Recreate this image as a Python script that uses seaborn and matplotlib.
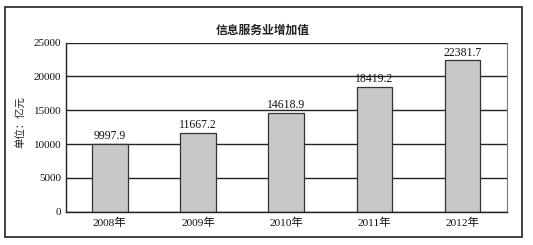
import matplotlib
matplotlib.use("Agg")
import matplotlib.pyplot as plt
import seaborn as sns
import pandas as pd
from matplotlib.patches import Rectangle
from matplotlib.ticker import FixedLocator

years = ["2008年", "2009年", "2010年", "2011年", "2012年"]
values = [9997.9, 11667.2, 14618.9, 18419.2, 22381.7]
value_labels = ["9997.9", "11667.2", "14618.9", "18419.2", "22381.7"]
y_ticks = [0, 5000, 10000, 15000, 20000, 25000]
title = "信息服务业增加值"
ylabel = "单位：亿元"

sns.set_theme(style="white")
plt.rcParams['font.family'] = ['Liberation Serif', 'Noto Sans CJK SC']
plt.rcParams['axes.unicode_minus'] = False

df = pd.DataFrame({"year": years, "value": values})

fig = plt.figure(figsize=(5.33, 2.45), dpi=100)
fig.patch.set_facecolor("white")
W, H = 533, 245
ax = fig.add_axes([65.7 / W, 1 - 211.7 / H, (506.7 - 65.7) / W, (211.7 - 42.7) / H])

for yv in y_ticks:
    ax.axhline(yv, color="#222222", lw=1.0, zorder=0)

sns.barplot(data=df, x="year", y="value", ax=ax, color="#c8c8c8",
            edgecolor="#333333", linewidth=0.9, width=0.405, saturation=1, zorder=2)

for i, (v, lab) in enumerate(zip(values, value_labels)):
    ax.text(i, v + 250, lab, ha="center", va="bottom", fontsize=8.5, color="#111111",
            family=['Liberation Serif', 'Noto Sans CJK SC'])

ax.set_ylim(0, 25000)
ax.set_xlim(-0.5, 4.5)
ax.set_yticks(y_ticks)
ax.set_yticklabels([str(t) for t in y_ticks], fontsize=8, color="#111111")
ax.set_xticks(range(len(years)))
ax.set_xticklabels(years, fontsize=8.2, color="#111111",
                   family=['Liberation Serif', 'Noto Sans CJK SC'])
ax.tick_params(axis="x", which="major", length=0, pad=4)
ax.tick_params(axis="y", which="major", length=0, pad=3)
ax.xaxis.set_minor_locator(FixedLocator([0.5, 1.5, 2.5, 3.5]))
ax.tick_params(axis="x", which="minor", direction="in", length=3, width=0.8, color="#333333")
ax.set_xlabel("")
ax.set_ylabel("")

for s in ["left", "bottom"]:
    ax.spines[s].set_color("#222222")
    ax.spines[s].set_linewidth(1.0)
ax.spines["top"].set_visible(False)
ax.spines["right"].set_color("#777777")
ax.spines["right"].set_linewidth(0.8)

fig.text(263 / W, 1 - 30 / H, title, ha="center", va="center", fontsize=8.5,
         fontweight="bold", family=['Noto Sans CJK SC'], color="#222222")
fig.text(21 / W, 1 - 122 / H, ylabel, ha="center", va="center", rotation=90,
         fontsize=7.5, family=['Noto Sans CJK SC'], color="#222222")

fig.patches.append(Rectangle((5 / W, 1 - 236.7 / H), (521.7 - 5) / W, (236.7 - 7.5) / H,
                             transform=fig.transFigure, fill=False,
                             edgecolor="#333333", linewidth=1.3))

fig.savefig("out.png", dpi=100)
